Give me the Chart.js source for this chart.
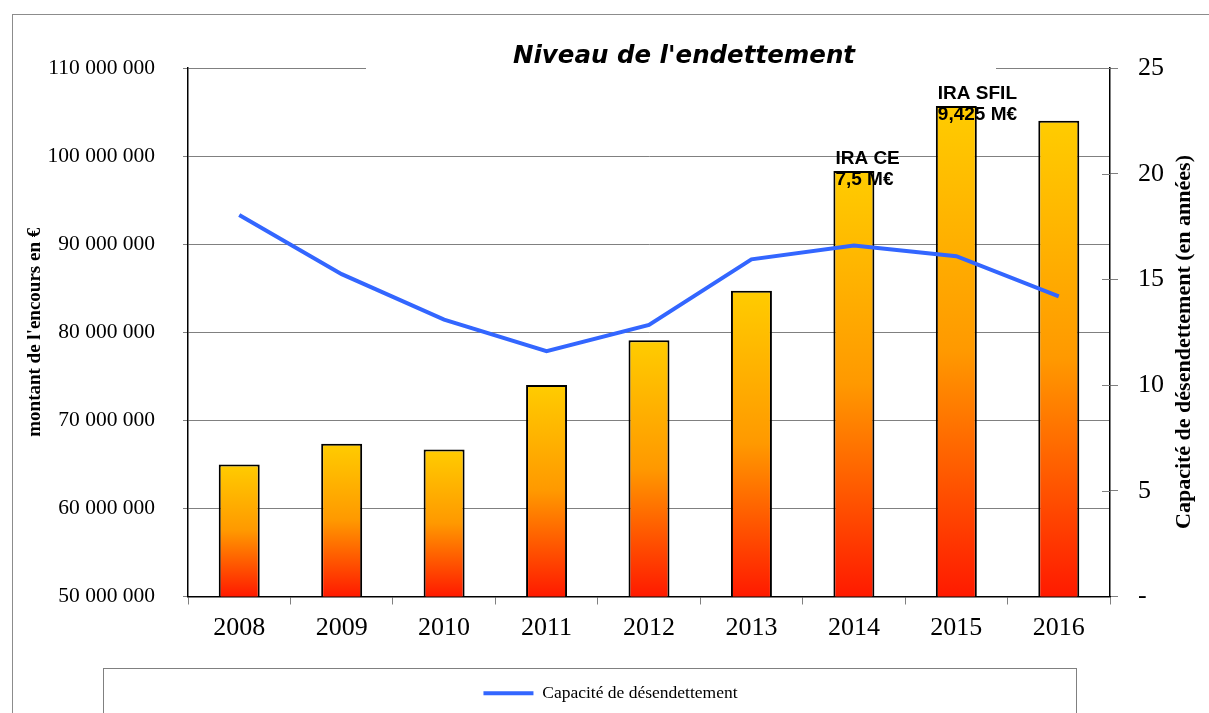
<!DOCTYPE html>
<html>
<head>
<meta charset="utf-8">
<script src="https://cdn.jsdelivr.net/npm/chart.js@4"></script>
<style>
html,body{margin:0;padding:0;background:#fff;}
#wrap{width:1209px;height:713px;position:relative;}
</style>
</head>
<body>
<div id="wrap"><canvas id="c" width="1209" height="713"></canvas></div>
<script>
// ---- data ----
const years = ['2008','2009','2010','2011','2012','2013','2014','2015','2016'];
const encours = [65000000, 67350000, 66700000, 74000000, 79100000, 84700000, 98300000, 105700000, 104000000];
const capacite = [18.05, 15.25, 13.1, 11.6, 12.85, 15.95, 16.6, 16.1, 14.2];
const annotations = [null, null, null, null, null, null, ['IRA CE', '7,5 M€'], ['IRA SFIL', '9,425 M€'], null];
const leftTicks = [50000000, 60000000, 70000000, 80000000, 90000000, 100000000, 110000000];
const rightTicks = [0, 5, 10, 15, 20, 25];
const chartTitle = "Niveau de l'endettement";
const leftTitle = "montant de l'encours en €";
const rightTitle = "Capacité de désendettement (en années)";
const lineLabel = "Capacité de désendettement";

const SERIF = "'Liberation Serif', 'Times New Roman', serif";

function fmtSpace(v){ return String(Math.round(v)).replace(/\B(?=(\d{3})+(?!\d))/g, ' '); }

const decor = {
  id: 'decor',
  beforeDraw(chart){
    const ctx = chart.ctx;
    ctx.save();
    ctx.fillStyle = '#fff';
    ctx.fillRect(0,0,chart.width,chart.height);
    // outer frame
    ctx.strokeStyle = '#8c8c8c';
    ctx.lineWidth = 1;
    ctx.strokeRect(12.5, 14.5, 1300, 800);
    // legend box
    ctx.strokeStyle = '#808080';
    ctx.strokeRect(103.5, 668.5, 973, 100);
    ctx.restore();
  },
  afterDraw(chart){
    const ctx = chart.ctx;
    const ca = chart.chartArea;
    ctx.save();
    // title with white background covering top gridline
    ctx.fillStyle = '#fff';
    ctx.fillRect(366, 40, 630, 34);
    ctx.fillStyle = '#000';
    ctx.font = "italic bold 24.5px 'DejaVu Sans', sans-serif";
    ctx.textAlign = 'center';
    ctx.textBaseline = 'alphabetic';
    ctx.fillText(chartTitle, 684, 63);
    // right axis crossing ticks (inner part)
    const y1 = chart.scales.y1;
    ctx.strokeStyle = '#808080';
    ctx.lineWidth = 1;
    rightTicks.forEach(v => {
      const py = Math.round(y1.getPixelForValue(v)) + 0.5;
      ctx.beginPath(); ctx.moveTo(ca.right - 8, py); ctx.lineTo(ca.right, py); ctx.stroke();
    });
    // right axis title, reading bottom to top
    ctx.fillStyle = '#000';
    ctx.font = "bold 22px " + SERIF;
    ctx.translate(1184, 342);
    ctx.rotate(-Math.PI/2);
    ctx.textAlign = 'center';
    ctx.textBaseline = 'middle';
    ctx.fillText(rightTitle, 0, 0);
    ctx.restore();
    // annotations above bars
    const meta = chart.getDatasetMeta(1);
    ctx.save();
    ctx.fillStyle = '#000';
    ctx.font = "bold 19px 'Liberation Sans', Arial, sans-serif";
    ctx.textAlign = 'left';
    ctx.textBaseline = 'alphabetic';
    annotations.forEach((a, i) => {
      if (!a) return;
      const el = meta.data[i];
      const left = el.x - el.width/2 + 2;
      ctx.fillText(a[0], left, el.y - 7);
      ctx.fillText(a[1], left, el.y + 14);
    });
    ctx.restore();
  }
};

function barGradient(c){
  const chart = c.chart;
  if (!chart.chartArea || c.raw === undefined) return '#FFCC00';
  const ys = chart.scales.y;
  const top = ys.getPixelForValue(c.raw);
  const bot = ys.getPixelForValue(ys.min);
  if (!isFinite(top) || !isFinite(bot) || bot - top < 1) return '#FFCC00';
  const g = chart.ctx.createLinearGradient(0, top, 0, bot);
  g.addColorStop(0, '#FFCC00');
  g.addColorStop(0.5, '#FF9900');
  g.addColorStop(1, '#FF1A00');
  return g;
}

new Chart(document.getElementById('c'), {
  data: {
    labels: years,
    datasets: [
      {
        type: 'line',
        label: lineLabel,
        data: capacite,
        yAxisID: 'y1',
        borderColor: '#3366FF',
        backgroundColor: '#3366FF',
        borderWidth: 4,
        pointRadius: 0,
        tension: 0,
        order: 0
      },
      {
        type: 'bar',
        label: 'Encours',
        data: encours,
        yAxisID: 'y',
        backgroundColor: barGradient,
        borderColor: '#000',
        borderWidth: 2,
        borderSkipped: false,
        barPercentage: 0.4,
        categoryPercentage: 1,
        order: 1
      }
    ]
  },
  options: {
    responsive: false,
    animation: false,
    layout: { padding: { left: 12, right: 0, top: 68, bottom: 1 } },
    plugins: {
      tooltip: { enabled: false },
      title: { display: false },
      legend: {
        display: true,
        position: 'bottom',
        labels: {
          padding: 10,
          boxWidth: 50,
          boxHeight: 4,
          color: '#000',
          font: { family: SERIF, size: 17.5 },
          generateLabels: () => [{
            text: lineLabel, fillStyle: '#3366FF', strokeStyle: '#3366FF',
            lineWidth: 0, hidden: false, datasetIndex: 0
          }]
        }
      }
    },
    scales: {
      x: {
        grid: { display: true, drawOnChartArea: false, offset: true, color: '#808080', tickLength: 8 },
        border: { color: '#000', width: 1.5 },
        ticks: { color: '#000', font: { family: SERIF, size: 26 }, padding: 8 },
        afterFit: s => { s.height = 78; }
      },
      y: {
        position: 'left',
        min: 50000000, max: 110000000,
        afterBuildTicks: s => { s.ticks = leftTicks.map(v => ({ value: v })); },
        grid: { color: '#808080', tickLength: 5 },
        border: { color: '#000', width: 1.5 },
        ticks: { color: '#000', font: { family: SERIF, size: 21.5 }, padding: 28, callback: v => fmtSpace(v) },
        title: { display: true, text: leftTitle, color: '#000', font: { family: SERIF, size: 19, weight: 'bold' }, padding: { top: 12, bottom: 0 } },
        afterFit: s => { s.width = 176; }
      },
      y1: {
        position: 'right',
        min: 0, max: 25,
        afterBuildTicks: s => { s.ticks = rightTicks.map(v => ({ value: v })); },
        grid: { drawOnChartArea: false, color: '#808080', tickLength: 8 },
        border: { color: '#000', width: 1.5 },
        ticks: { color: '#000', font: { family: SERIF, size: 26 }, padding: 20, callback: v => (v === 0 ? '-' : String(v)) },
        afterFit: s => { s.width = 99; }
      }
    }
  },
  plugins: [decor]
});
</script>
</body>
</html>
